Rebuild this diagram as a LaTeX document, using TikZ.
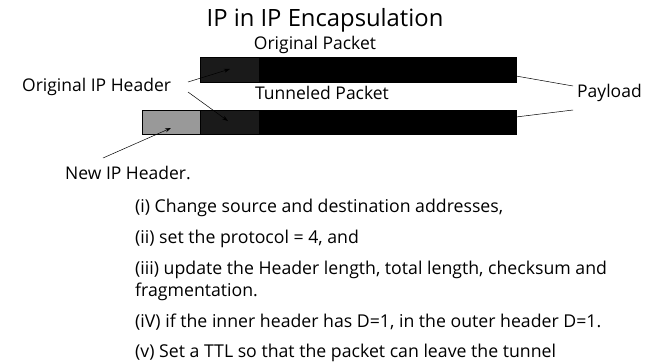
\documentclass[tikz,border=0pt]{standalone}
\usepackage{fontspec}
\setmainfont{Open Sans}
\usetikzlibrary{arrows.meta}
\definecolor{hdrdark}{HTML}{1A1A1A}
\definecolor{hdrgray}{HTML}{999999}
\tikzset{x=1pt, y=-1pt,
    lbl/.style={inner sep=0pt, anchor=base west, font=\fontsize{17.5}{20}\selectfont},
    item/.style={inner sep=0pt, anchor=base west, font=\fontsize{17.7}{20}\selectfont},
    field/.style={draw=black, line width=0.4pt, inner sep=0pt, outer sep=0pt,
        anchor=north west, minimum height=25pt},
    ptr/.style={-{Stealth[length=6pt,width=4pt]}, line width=0.5pt},
    }
\begin{document}
\begin{tikzpicture}
\useasboundingbox (0,0) rectangle (647,362);
% packets
\node[field, fill=hdrdark, minimum width=59pt] (ohdr) at (200,57) {};
\node[field, fill=black, minimum width=257pt] (opay) at (259,57) {};
\node[field, fill=hdrgray, minimum width=58pt, minimum height=24pt] (nhdr) at (142,110) {};
\node[field, fill=hdrdark, minimum width=59pt, minimum height=24pt] (thdr) at (200,110) {};
\node[field, fill=black, minimum width=257pt, minimum height=24pt] (tpay) at (259,110) {};
% labels
\node[inner sep=0pt, anchor=base, font=\fontsize{23.8}{28}\selectfont] (title) at (325,26) {IP in IP Encapsulation};
\node[lbl, anchor=base] (origpkt) at (315,49) {Original Packet};
\node[lbl, anchor=base] (tunpkt) at (322,99) {Tunneled Packet};
\node[lbl] (origip) at (22,91) {Original IP Header};
\node[lbl] (payload) at (577,97) {Payload};
\node[lbl] (newip) at (65,179) {New IP Header.};
% connectors
\coordinate (a1) at (188,82);
\coordinate (a2) at (188,92);
\coordinate (a3) at (103,158);
\coordinate (h1) at (230,69);
\coordinate (h2) at (228,121);
\coordinate (h3) at (171,128);
\coordinate (p1) at (516,76);
\coordinate (p2) at (516,117);
\coordinate (q1) at (573,86);
\coordinate (q2) at (573,110);
\draw[ptr] (a1) -- (h1);
\draw[ptr] (a2) -- (h2);
\draw[ptr] (a3) -- (h3);
\draw[line width=0.5pt] (p1) -- (q1);
\draw[line width=0.5pt] (p2) -- (q2);
% steps
\node[item] (st1) at (135,212) {(i) Change source and destination addresses,};
\node[item] (st2) at (135,243) {(ii) set the protocol = 4, and};
\node[item] (st3) at (135,274) {(iii) update the Header length, total length, checksum and};
\node[item] (st3b) at (135,296) {fragmentation.};
\node[item] (st4) at (135,327) {(iV) if the inner header has D=1, in the outer header D=1.};
\node[item] (st5) at (135,357) {(v) Set a TTL so that the packet can leave the tunnel};
\end{tikzpicture}
\end{document}
